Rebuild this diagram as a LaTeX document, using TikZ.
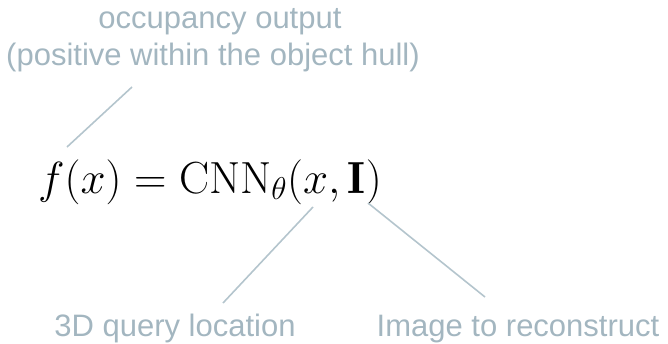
\documentclass[tikz,border=0pt]{standalone}
\usepackage{fix-cm}
\usepackage{fontspec}
\newfontfamily\lblfont{Liberation Sans}
\usetikzlibrary{positioning}
\definecolor{lblgray}{RGB}{163,182,192}
\definecolor{linegray}{RGB}{180,197,205}
\tikzset{
  lbl/.style={text=lblgray,inner sep=0pt,font=\lblfont\fontsize{31}{37}\selectfont},
  pointer/.style={draw=linegray,line width=1.6pt}
}

\begin{document}
\begin{tikzpicture}[x=1pt,y=-1pt]
\useasboundingbox (0,0) rectangle (668,343);
\node[lbl,anchor=base] (occ) at (220,28) {occupancy output};
\node[lbl,anchor=base] (hull) at (213,65) {(positive within the object hull)};
\node[inner sep=0pt,anchor=base west,font=\fontsize{45}{54}\selectfont] (eq) at (38,193) {$f(x) = \mathrm{CNN}_\theta(x, \mathbf{I})$};
\node[lbl,anchor=base] (query) at (175,336) {3D query location};
\node[lbl,anchor=base] (image) at (518,336) {Image to reconstruct};
% pointer ends
\coordinate (occtop) at (132,87);
\coordinate (occbot) at (67,147);
\coordinate (xtop) at (313,207);
\coordinate (xbot) at (223,303);
\coordinate (imtop) at (368,203);
\coordinate (imbot) at (485,297);
\draw[pointer] (occtop) -- (occbot);
\draw[pointer] (xtop) -- (xbot);
\draw[pointer] (imtop) -- (imbot);
\end{tikzpicture}
\end{document}
